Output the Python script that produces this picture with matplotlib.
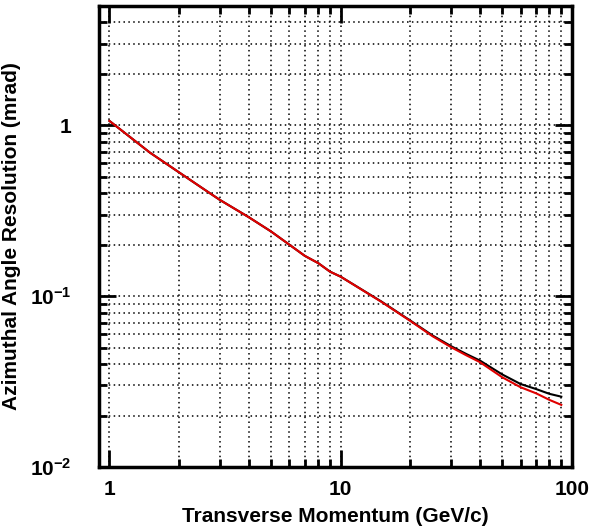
import numpy as np
import matplotlib.pyplot as plt
from matplotlib.ticker import LogLocator, NullFormatter, FixedFormatter, FixedLocator

plt.rcParams['font.family'] = ['Liberation Sans', 'DejaVu Sans']
plt.rcParams['font.weight'] = 'bold'
plt.rcParams['mathtext.fontset'] = 'custom'
plt.rcParams['mathtext.rm'] = 'Liberation Sans:bold'
plt.rcParams['mathtext.default'] = 'rm'

# transverse momentum points (GeV/c)
pt = [1, 1.5, 2, 2.5, 3, 4, 5, 6, 7, 8, 9, 10, 15, 20, 25, 30, 35, 40,
      50, 60, 70, 80, 90]
# azimuthal angle resolution (mrad)
res_black = [1.06, 0.69, 0.53, 0.432, 0.366, 0.290, 0.239, 0.200, 0.172,
             0.156, 0.139, 0.130, 0.0930, 0.0720, 0.0588, 0.0510, 0.0458,
             0.0420, 0.0348, 0.0306, 0.0286, 0.0268, 0.0258]
res_red = [1.06, 0.69, 0.53, 0.432, 0.366, 0.290, 0.239, 0.200, 0.172,
           0.156, 0.139, 0.130, 0.0926, 0.0716, 0.0582, 0.0503, 0.0450,
           0.0411, 0.0335, 0.0293, 0.0270, 0.0247, 0.0231]

x_ticks = [1, 10, 100]
x_labels = ['1', '10', '100']
y_ticks = [0.01, 0.1, 1]
y_labels = [r'$10^{-2}$', r'$10^{-1}$', '1']

fig = plt.figure(figsize=(5.92, 5.28), dpi=100)
ax = fig.add_axes([0.167, 0.1155, 0.799, 0.8735])

ax.plot(pt, res_black, color='black', lw=1.5)
ax.plot(pt, res_red, color='#e00000', lw=1.5)

ax.set_xscale('log')
ax.set_yscale('log')
ax.set_xlim(0.9, 100)
ax.set_ylim(0.01, 5)

ax.xaxis.set_major_locator(FixedLocator(x_ticks))
ax.xaxis.set_major_formatter(FixedFormatter(x_labels))
ax.yaxis.set_major_locator(FixedLocator(y_ticks))
ax.yaxis.set_major_formatter(FixedFormatter(y_labels))
for a in (ax.xaxis, ax.yaxis):
    a.set_minor_locator(LogLocator(base=10, subs=np.arange(2, 10)))
    a.set_minor_formatter(NullFormatter())

ax.tick_params(which='both', direction='in', top=True, right=True,
               width=2, labelsize=15)
ax.tick_params(which='major', length=12)
ax.tick_params(which='minor', length=6)
ax.tick_params(axis='x', pad=9)
ax.tick_params(axis='y', pad=20)

ax.grid(True, which='both', color='black', lw=1.1, linestyle=(0, (1, 2.2)))
for s in ax.spines.values():
    s.set_linewidth(2.5)

ax.set_xlabel('Transverse Momentum (GeV/c)', fontsize=15, fontweight='bold',
              labelpad=6)
ax.set_ylabel('Azimuthal Angle Resolution (mrad)', fontsize=15,
              fontweight='bold', labelpad=6)

fig.savefig('out.png', dpi=100)
